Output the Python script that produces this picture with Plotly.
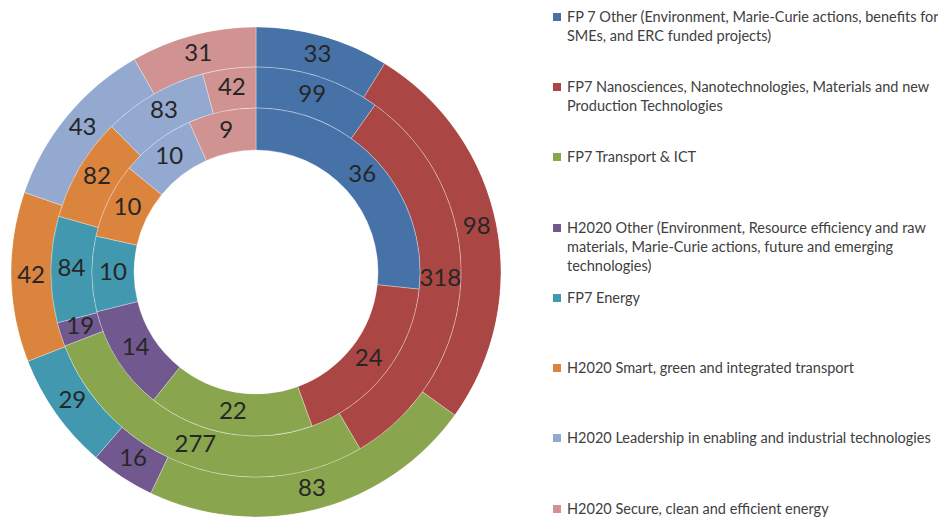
import plotly.graph_objects as go

categories = [
    "FP 7 Other (Environment, Marie-Curie actions, benefits for<br>SMEs, and ERC funded projects)",
    "FP7 Nanosciences, Nanotechnologies, Materials and new<br>Production Technologies",
    "FP7 Transport & ICT",
    "H2020 Other (Environment, Resource efficiency and raw<br>materials, Marie-Curie actions, future and emerging<br>technologies)",
    "FP7 Energy",
    "H2020 Smart, green and integrated transport",
    "H2020 Leadership in enabling and industrial technologies",
    "H2020 Secure, clean and efficient energy",
]
inner_values = [36, 24, 22, 14, 10, 10, 10, 9]
middle_values = [99, 318, 277, 19, 84, 82, 83, 42]
outer_values = [33, 98, 83, 16, 29, 42, 43, 31]
colors = ["#4672A8", "#AA4643", "#89A54E", "#71588F", "#4198AF", "#DB843D", "#93A9CF", "#D19392"]

# figure sits at an 8px body offset inside the 946x518 window
W, H = 938, 510
CX, CY = 248, 264          # centre in figure px (from top)
R_HOLE, R_IN, R_MID, R_OUT = 122, 164, 205, 245

rings = [(outer_values, R_OUT, R_MID),
         (middle_values, R_MID, R_IN),
         (inner_values, R_IN, R_HOLE)]

fig = go.Figure()
lab_r, lab_theta, lab_text = [], [], []
for vals, r_outer, r_inner in rings:
    total = sum(vals)
    cum = 0
    thetas, widths = [], []
    for v in vals:
        thetas.append((cum + v / 2) / total * 360)
        widths.append(v / total * 360)
        cum += v
    fig.add_trace(go.Barpolar(
        theta=thetas, width=widths, r=[r_outer - r_inner] * len(vals),
        base=[r_inner] * len(vals),
        marker=dict(color=colors, line=dict(color="rgba(255,255,255,0.4)", width=0.8)),
        customdata=[c.replace("<br>", " ") for c in categories], text=[str(v) for v in vals],
        hovertemplate="%{customdata}: %{text}<extra></extra>", showlegend=False,
    ))
    lab_r += [(r_outer + r_inner) / 2] * len(vals)
    lab_theta += thetas
    lab_text += [str(v) for v in vals]

# value labels at the middle of every slice
fig.add_trace(go.Scatterpolar(
    r=lab_r, theta=lab_theta, text=lab_text, mode="text",
    textfont=dict(family="Lato", size=24, color="#262626"),
    textposition="middle center", showlegend=False, hoverinfo="skip",
))

# legend drawn as annotations + squares
legend_first_line = [17, 87, 157, 228, 298, 368, 438, 509]
shapes = []
annotations = []
for lab, col, yp in zip(categories, colors, legend_first_line):
    yc = yp - 8
    shapes.append(dict(type="rect", xref="paper", yref="paper",
                       x0=545 / W, x1=553 / W, y0=(H - yc - 4) / H, y1=(H - yc + 4) / H,
                       fillcolor=col, line=dict(width=0)))
    annotations.append(dict(text=lab, xref="paper", yref="paper",
                            x=557 / W, y=(H - yc + 11) / H, xanchor="left", yanchor="top",
                            align="left", showarrow=False,
                            font=dict(family="Lato", size=14.5, color="#404040")))

fig.update_layout(
    width=W, height=H, margin=dict(l=0, r=0, t=0, b=0),
    paper_bgcolor="white", plot_bgcolor="white",
    polar=dict(domain=dict(x=[(CX - R_OUT) / W, (CX + R_OUT) / W],
                           y=[(H - CY - R_OUT) / H, (H - CY + R_OUT) / H]),
               bgcolor="rgba(0,0,0,0)", bargap=0,
               radialaxis=dict(visible=False, range=[0, R_OUT]),
               angularaxis=dict(visible=False, rotation=90, direction="clockwise")),
    shapes=shapes, annotations=annotations,
)
fig.write_html("out.html")
